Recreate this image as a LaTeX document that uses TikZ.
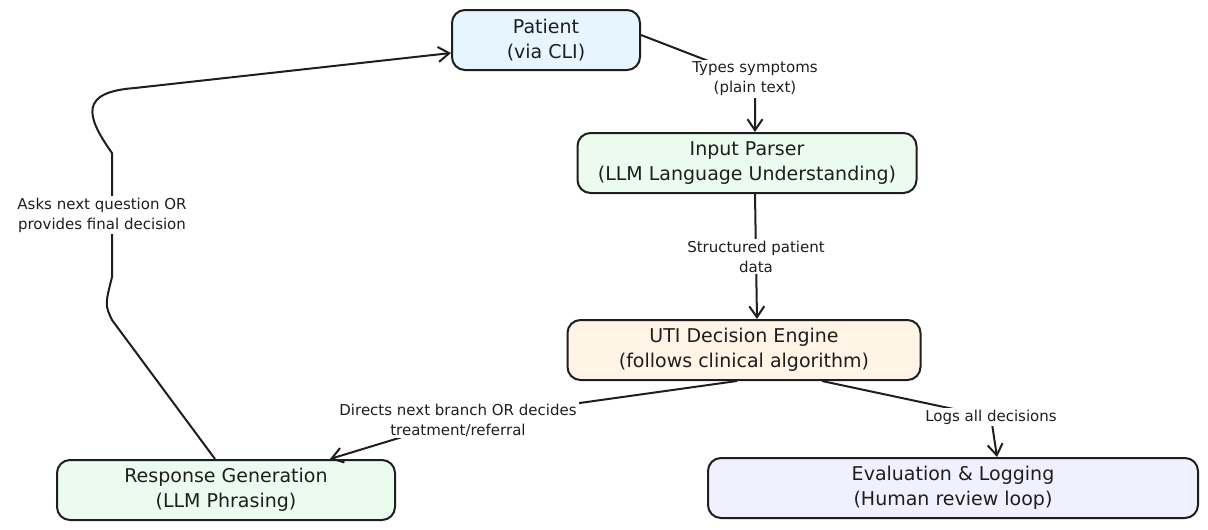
\documentclass[tikz,border=0pt]{standalone}
\usepackage{fontspec}
\setmainfont{DejaVu Sans}
\usepackage{xcolor}
\usetikzlibrary{arrows.meta, positioning, calc}

\definecolor{inkc}{HTML}{1E1E1E}
\definecolor{bluef}{HTML}{E7F5FF}
\definecolor{greenf}{HTML}{EBFBEE}
\definecolor{orangef}{HTML}{FFF4E6}
\definecolor{purplef}{HTML}{F1F0FF}

\tikzset{
    box/.style={draw=inkc, line width=2pt, rounded corners=13pt, align=center,
        minimum height=60pt, inner sep=0pt, text=inkc,
        font=\fontsize{19}{25}\selectfont},
    lbl/.style={fill=white, align=center, inner sep=2pt, text=inkc,
        font=\fontsize{15}{20}\selectfont},
    flow/.style={draw=inkc, line width=2pt, line join=round,
        -{Straight Barb[length=11pt, width=15pt, line width=2pt]}}
}

\begin{document}
\begin{tikzpicture}[x=1pt, y=-1pt]
        \useasboundingbox (0,0) rectangle (1208,530);

        % --- Boîtes ---
        \node[box, fill=bluef,   minimum width=188pt] (patient) at (546, 40)  {Patient\\(via CLI)};
        \node[box, fill=greenf,  minimum width=339pt] (parser)  at (747, 163) {Input Parser\\(LLM Language Understanding)};
        \node[box, fill=orangef, minimum width=353pt] (engine)  at (744, 350) {UTI Decision Engine\\(follows clinical algorithm)};
        \node[box, fill=greenf,  minimum width=338pt] (resp)    at (226, 490) {Response Generation\\(LLM Phrasing)};
        \node[box, fill=purplef, minimum width=490pt] (eval)    at (953, 488) {Evaluation \& Logging\\(Human review loop)};

        % --- Points de passage ---
        \coordinate (c1) at (755, 79);
        \coordinate (c3) at (458, 420);
        \coordinate (c4) at (991, 417);

        % --- Patient vers parser ---
        \draw[flow] ([yshift=5pt]patient.east) -- (c1)
            node[lbl] (l1) {Types symptoms\\(plain text)} -- ([xshift=8pt]parser.north);

        % --- Parser vers moteur ---
        \draw[flow] ([xshift=8pt]parser.south) --
            node[lbl] (l2) {Structured patient\\data} ([xshift=13pt]engine.north);

        % --- Moteur vers réponse ---
        \draw[flow] ([xshift=-7pt]engine.south) -- (c3)
            node[lbl] (l3) {Directs next branch OR decides\\treatment/referral} -- ([xshift=104pt]resp.north);

        % --- Moteur vers évaluation ---
        \draw[flow] ([xshift=78pt]engine.south) -- (c4)
            node[lbl] (l4) {Logs all decisions} -- ([xshift=44pt]eval.north);

        % --- Boucle retour vers le patient ---
        \draw[flow] ([xshift=-11pt]resp.north) -- (112, 320)
            .. controls (105, 305) .. (112, 277)
            -- node[lbl, xshift=-10pt] (l5) {Asks next question OR\\provides final decision} (112, 153)
            .. controls (85, 115) and (80, 92) .. (135, 88)
            -- ([yshift=-13pt]patient.west);

    \end{tikzpicture}
\end{document}
